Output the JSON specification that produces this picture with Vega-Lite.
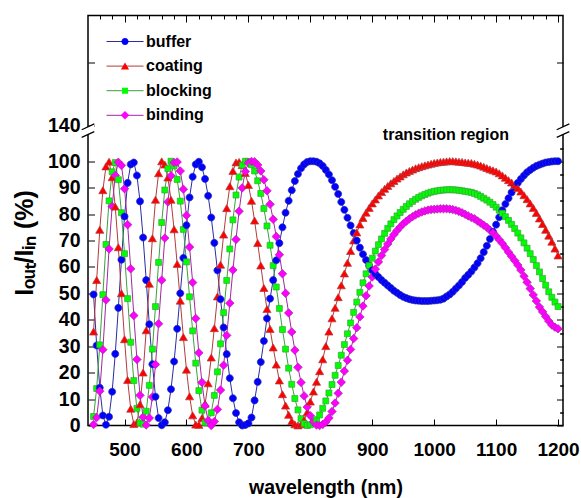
{
  "$schema": "https://vega.github.io/schema/vega-lite/v6.json",
  "autosize": {"type": "none"},
  "padding": {"left": 88, "top": 15.5, "right": 18, "bottom": 72.5},
  "width": 475,
  "height": 410,
  "background": "white",
  "config": {
    "view": {"stroke": "black", "strokeWidth": 1.5},
    "font": "Liberation Sans",
    "axis": {"grid": false, "domain": false, "tickColor": "black", "tickWidth": 1, "labelFont": "Liberation Sans", "labelFontWeight": "bold", "labelColor": "black", "titleFont": "Liberation Sans", "titleFontWeight": "bold", "titleColor": "black", "labelOverlap": false, "labelFlush": false},
    "legend": {"labelFont": "Liberation Sans", "labelColor": "black", "padding": 0}
  },
  "data": {"values": [
    {"wavelength":450,"buffer":49.6,"coating":35.5,"blocking":3.4,"binding":0.4},
    {"wavelength":455,"buffer":30.3,"coating":55,"blocking":14,"binding":3},
    {"wavelength":460,"buffer":14.3,"coating":74,"blocking":30.5,"binding":13},
    {"wavelength":465,"buffer":3.8,"coating":89,"blocking":49.5,"binding":28.7},
    {"wavelength":470,"buffer":0.3,"coating":98,"blocking":68.5,"binding":47.5},
    {"wavelength":475,"buffer":3.3,"coating":99.8,"blocking":85,"binding":66.8},
    {"wavelength":480,"buffer":12.8,"coating":93.9,"blocking":96,"binding":82.9},
    {"wavelength":485,"buffer":27.1,"coating":82.8,"blocking":99.5,"binding":94.6},
    {"wavelength":490,"buffer":44.5,"coating":67.4,"blocking":93,"binding":99.6},
    {"wavelength":495,"buffer":62.7,"coating":50,"blocking":80.5,"binding":98.4},
    {"wavelength":500,"buffer":79.1,"coating":32.6,"blocking":65,"binding":89.6},
    {"wavelength":505,"buffer":91.8,"coating":17.2,"blocking":48,"binding":76},
    {"wavelength":510,"buffer":98.8,"coating":6.3,"blocking":31.5,"binding":59.3},
    {"wavelength":515,"buffer":99.5,"coating":0.5,"blocking":17,"binding":41.6},
    {"wavelength":520,"buffer":94.6,"coating":1.1,"blocking":6.5,"binding":25},
    {"wavelength":525,"buffer":84.8,"coating":8,"blocking":1,"binding":11.4},
    {"wavelength":530,"buffer":71.1,"coating":20,"blocking":0.5,"binding":3.2},
    {"wavelength":535,"buffer":55,"coating":36,"blocking":5.4,"binding":0.2},
    {"wavelength":540,"buffer":38.3,"coating":53.6,"blocking":15.2,"binding":2.8},
    {"wavelength":545,"buffer":23.2,"coating":70.8,"blocking":28.9,"binding":10.8},
    {"wavelength":550,"buffer":10.9,"coating":85.4,"blocking":45,"binding":23.1},
    {"wavelength":555,"buffer":2.8,"coating":95.4,"blocking":61.7,"binding":38.5},
    {"wavelength":560,"buffer":0.1,"coating":99.9,"blocking":76.8,"binding":55},
    {"wavelength":565,"buffer":1.2,"coating":98.7,"blocking":89.1,"binding":70.9},
    {"wavelength":570,"buffer":5.8,"coating":93.8,"blocking":97.2,"binding":84.6},
    {"wavelength":575,"buffer":13.7,"coating":85.4,"blocking":100,"binding":94.5},
    {"wavelength":580,"buffer":24.2,"coating":74.2,"blocking":98.2,"binding":99.5},
    {"wavelength":585,"buffer":36.6,"coating":61.1,"blocking":93.1,"binding":99.7},
    {"wavelength":590,"buffer":50,"coating":47.2,"blocking":84.9,"binding":96.3},
    {"wavelength":595,"buffer":63.4,"coating":33.4,"blocking":74.2,"binding":89.4},
    {"wavelength":600,"buffer":75.8,"coating":21.1,"blocking":61.9,"binding":79.5},
    {"wavelength":605,"buffer":86.3,"coating":11,"blocking":48.7,"binding":67.5},
    {"wavelength":610,"buffer":94.1,"coating":3.8,"blocking":35.8,"binding":54.1},
    {"wavelength":615,"buffer":98.8,"coating":0.3,"blocking":23.6,"binding":40.5},
    {"wavelength":620,"buffer":99.8,"coating":0.2,"blocking":13.2,"binding":27.5},
    {"wavelength":625,"buffer":97.7,"coating":2.8,"blocking":5.8,"binding":16.3},
    {"wavelength":630,"buffer":93.3,"coating":8.2,"blocking":1.1,"binding":7.4},
    {"wavelength":635,"buffer":86.9,"coating":15.9,"blocking":1,"binding":1.9},
    {"wavelength":640,"buffer":78.7,"coating":25.7,"blocking":4.8,"binding":0},
    {"wavelength":645,"buffer":69.1,"coating":36.8,"blocking":11.4,"binding":1.5},
    {"wavelength":650,"buffer":58.7,"coating":48.8,"blocking":20.3,"binding":6.1},
    {"wavelength":655,"buffer":47.8,"coating":60.8,"blocking":30.9,"binding":13.4},
    {"wavelength":660,"buffer":37.1,"coating":72.2,"blocking":42.7,"binding":22.8},
    {"wavelength":665,"buffer":27,"coating":82.2,"blocking":54.9,"binding":34.1},
    {"wavelength":670,"buffer":17.9,"coating":90.5,"blocking":66.8,"binding":46.3},
    {"wavelength":675,"buffer":10.3,"coating":96.3,"blocking":77.8,"binding":58.8},
    {"wavelength":680,"buffer":4.7,"coating":99.5,"blocking":87.2,"binding":70.4},
    {"wavelength":685,"buffer":1.2,"coating":99.7,"blocking":94,"binding":81.1},
    {"wavelength":690,"buffer":0,"coating":98.5,"blocking":98.5,"binding":89.9},
    {"wavelength":695,"buffer":0.2,"coating":95.5,"blocking":100,"binding":96.1},
    {"wavelength":700,"buffer":0.8,"coating":91,"blocking":99.9,"binding":99.4},
    {"wavelength":705,"buffer":3,"coating":85,"blocking":98.7,"binding":99.9},
    {"wavelength":710,"buffer":9.5,"coating":77.5,"blocking":96.3,"binding":99.8},
    {"wavelength":715,"buffer":16.5,"coating":69,"blocking":92.6,"binding":98.6},
    {"wavelength":720,"buffer":24,"coating":60.5,"blocking":87.8,"binding":96.3},
    {"wavelength":725,"buffer":32,"coating":52,"blocking":82.1,"binding":93},
    {"wavelength":730,"buffer":40.5,"coating":44,"blocking":75.5,"binding":88.8},
    {"wavelength":735,"buffer":48,"coating":36.5,"blocking":68.2,"binding":83.7},
    {"wavelength":740,"buffer":55,"coating":29.5,"blocking":60.5,"binding":78},
    {"wavelength":745,"buffer":62.5,"coating":23,"blocking":52.4,"binding":71.5},
    {"wavelength":750,"buffer":69,"coating":17,"blocking":44.3,"binding":64.6},
    {"wavelength":755,"buffer":75,"coating":11.8,"blocking":36.3,"binding":57.4},
    {"wavelength":760,"buffer":80.5,"coating":7.5,"blocking":28.9,"binding":50},
    {"wavelength":765,"buffer":85,"coating":4,"blocking":21.7,"binding":42.6},
    {"wavelength":770,"buffer":89,"coating":1.6,"blocking":15.6,"binding":35.4},
    {"wavelength":775,"buffer":92.5,"coating":0.4,"blocking":10.2,"binding":28.5},
    {"wavelength":780,"buffer":95.2,"coating":0,"blocking":5.9,"binding":22},
    {"wavelength":785,"buffer":97.3,"coating":0.4,"blocking":2.6,"binding":16.3},
    {"wavelength":790,"buffer":98.8,"coating":2,"blocking":0.7,"binding":11.2},
    {"wavelength":795,"buffer":99.7,"coating":5,"blocking":0,"binding":7},
    {"wavelength":800,"buffer":100,"coating":9,"blocking":0.3,"binding":3.7},
    {"wavelength":805,"buffer":100,"coating":12.8,"blocking":1,"binding":1.4},
    {"wavelength":810,"buffer":99.8,"coating":16.5,"blocking":2.2,"binding":0.2},
    {"wavelength":815,"buffer":99.2,"coating":20.5,"blocking":4,"binding":0},
    {"wavelength":820,"buffer":98.2,"coating":25,"blocking":6.5,"binding":0.4},
    {"wavelength":825,"buffer":96.7,"coating":30,"blocking":9.3,"binding":1.3},
    {"wavelength":830,"buffer":95,"coating":35.5,"blocking":12.3,"binding":2.8},
    {"wavelength":835,"buffer":92.8,"coating":40.5,"blocking":15.5,"binding":5.3},
    {"wavelength":840,"buffer":90.3,"coating":44.5,"blocking":19,"binding":8.5},
    {"wavelength":845,"buffer":87.6,"coating":48.5,"blocking":22.7,"binding":12.2},
    {"wavelength":850,"buffer":84.6,"coating":53,"blocking":26.6,"binding":16.4},
    {"wavelength":855,"buffer":81.6,"coating":57.5,"blocking":30.6,"binding":20.6},
    {"wavelength":860,"buffer":78.6,"coating":61.5,"blocking":34.7,"binding":24.7},
    {"wavelength":865,"buffer":75.7,"coating":66,"blocking":38.8,"binding":28.8},
    {"wavelength":870,"buffer":72.8,"coating":70,"blocking":42.8,"binding":32.9},
    {"wavelength":875,"buffer":70,"coating":73,"blocking":46.7,"binding":37},
    {"wavelength":880,"buffer":67.3,"coating":76,"blocking":50.4,"binding":41.1},
    {"wavelength":885,"buffer":64.8,"coating":78.5,"blocking":54,"binding":45.2},
    {"wavelength":890,"buffer":62.6,"coating":80.5,"blocking":57.4,"binding":49.1},
    {"wavelength":895,"buffer":60.5,"coating":82.3,"blocking":60.5,"binding":52.8},
    {"wavelength":900,"buffer":58.7,"coating":84,"blocking":63.3,"binding":56.2},
    {"wavelength":905,"buffer":57.4,"coating":85.5,"blocking":66,"binding":59.2},
    {"wavelength":910,"buffer":56.2,"coating":87,"blocking":68.4,"binding":61.9},
    {"wavelength":915,"buffer":55,"coating":88.3,"blocking":70.6,"binding":64.3},
    {"wavelength":920,"buffer":54,"coating":89.5,"blocking":72.7,"binding":66.6},
    {"wavelength":925,"buffer":53,"coating":90.6,"blocking":74.6,"binding":68.7},
    {"wavelength":930,"buffer":52,"coating":91.6,"blocking":76.3,"binding":70.6},
    {"wavelength":935,"buffer":51,"coating":92.5,"blocking":77.9,"binding":72.3},
    {"wavelength":940,"buffer":50.2,"coating":93.4,"blocking":79.3,"binding":73.8},
    {"wavelength":945,"buffer":49.4,"coating":94.2,"blocking":80.6,"binding":75.1},
    {"wavelength":950,"buffer":48.7,"coating":95,"blocking":81.8,"binding":76.3},
    {"wavelength":955,"buffer":48.2,"coating":95.7,"blocking":82.9,"binding":77.3},
    {"wavelength":960,"buffer":47.8,"coating":96.3,"blocking":83.9,"binding":78.2},
    {"wavelength":965,"buffer":47.5,"coating":96.8,"blocking":84.8,"binding":79},
    {"wavelength":970,"buffer":47.3,"coating":97.3,"blocking":85.6,"binding":79.7},
    {"wavelength":975,"buffer":47.2,"coating":97.7,"blocking":86.3,"binding":80.3},
    {"wavelength":980,"buffer":47.1,"coating":98.1,"blocking":86.9,"binding":80.8},
    {"wavelength":985,"buffer":47.1,"coating":98.4,"blocking":87.4,"binding":81.2},
    {"wavelength":990,"buffer":47.1,"coating":98.7,"blocking":87.9,"binding":81.5},
    {"wavelength":995,"buffer":47.2,"coating":99,"blocking":88.3,"binding":81.7},
    {"wavelength":1000,"buffer":47.3,"coating":99.3,"blocking":88.6,"binding":81.8},
    {"wavelength":1005,"buffer":47.4,"coating":99.5,"blocking":88.8,"binding":81.9},
    {"wavelength":1010,"buffer":47.6,"coating":99.7,"blocking":89,"binding":82},
    {"wavelength":1015,"buffer":48,"coating":99.8,"blocking":89.1,"binding":82},
    {"wavelength":1020,"buffer":48.8,"coating":99.9,"blocking":89.2,"binding":82},
    {"wavelength":1025,"buffer":49.6,"coating":100,"blocking":89.2,"binding":81.9},
    {"wavelength":1030,"buffer":50.6,"coating":100,"blocking":89.2,"binding":81.7},
    {"wavelength":1035,"buffer":51.8,"coating":99.9,"blocking":89.1,"binding":81.4},
    {"wavelength":1040,"buffer":53,"coating":99.8,"blocking":89,"binding":81},
    {"wavelength":1045,"buffer":54.3,"coating":99.7,"blocking":88.8,"binding":80.5},
    {"wavelength":1050,"buffer":55.8,"coating":99.5,"blocking":88.6,"binding":79.9},
    {"wavelength":1055,"buffer":57,"coating":99.4,"blocking":88.4,"binding":79.3},
    {"wavelength":1060,"buffer":58.3,"coating":99.3,"blocking":88.2,"binding":78.7},
    {"wavelength":1065,"buffer":59.8,"coating":99,"blocking":87.8,"binding":78.2},
    {"wavelength":1070,"buffer":61.4,"coating":98.7,"blocking":87.3,"binding":77.4},
    {"wavelength":1075,"buffer":63.3,"coating":98.3,"blocking":86.7,"binding":76.6},
    {"wavelength":1080,"buffer":65.6,"coating":97.9,"blocking":86,"binding":75.8},
    {"wavelength":1085,"buffer":68,"coating":97.4,"blocking":85.3,"binding":75},
    {"wavelength":1090,"buffer":70.6,"coating":96.9,"blocking":84.5,"binding":73.9},
    {"wavelength":1095,"buffer":73.3,"coating":96.5,"blocking":83.6,"binding":72.9},
    {"wavelength":1100,"buffer":76,"coating":96.1,"blocking":82.6,"binding":71.7},
    {"wavelength":1105,"buffer":78.8,"coating":95.4,"blocking":81.5,"binding":70.3},
    {"wavelength":1110,"buffer":81.4,"coating":94.6,"blocking":80.3,"binding":68.9},
    {"wavelength":1115,"buffer":83.8,"coating":93.7,"blocking":79,"binding":67.3},
    {"wavelength":1120,"buffer":86,"coating":92.8,"blocking":77.6,"binding":65.6},
    {"wavelength":1125,"buffer":88.2,"coating":91.9,"blocking":76.1,"binding":64},
    {"wavelength":1130,"buffer":90.1,"coating":90.9,"blocking":74.5,"binding":62.4},
    {"wavelength":1135,"buffer":91.8,"coating":89.8,"blocking":72.8,"binding":60.7},
    {"wavelength":1140,"buffer":93.3,"coating":88.5,"blocking":71,"binding":58.8},
    {"wavelength":1145,"buffer":94.6,"coating":87.1,"blocking":69.1,"binding":56.5},
    {"wavelength":1150,"buffer":95.8,"coating":85.6,"blocking":67.1,"binding":54.2},
    {"wavelength":1155,"buffer":96.7,"coating":84,"blocking":65,"binding":51.8},
    {"wavelength":1160,"buffer":97.5,"coating":82.3,"blocking":62.8,"binding":49.4},
    {"wavelength":1165,"buffer":98.2,"coating":80.4,"blocking":60.5,"binding":47.1},
    {"wavelength":1170,"buffer":98.7,"coating":78.3,"blocking":58.1,"binding":44.8},
    {"wavelength":1175,"buffer":99.1,"coating":76.2,"blocking":55.6,"binding":43},
    {"wavelength":1180,"buffer":99.5,"coating":74,"blocking":53.1,"binding":41.2},
    {"wavelength":1185,"buffer":99.7,"coating":71.8,"blocking":50.6,"binding":39.5},
    {"wavelength":1190,"buffer":99.9,"coating":69.5,"blocking":48.5,"binding":38},
    {"wavelength":1195,"buffer":100,"coating":66.9,"blocking":46.7,"binding":37.2},
    {"wavelength":1200,"buffer":100,"coating":64.3,"blocking":45,"binding":36.6}
  ]},
  "layer": [
    {
      "transform": [{"fold": ["buffer", "coating", "blocking", "binding"], "as": ["series", "I"]}],
      "mark": {"type": "line", "strokeWidth": 1},
      "encoding": {
        "x": {"field": "wavelength", "type": "quantitative",
          "scale": {"domain": [441, 1208], "nice": false, "zero": false},
          "axis": {"values": [500, 600, 700, 800, 900, 1000, 1100, 1200], "format": "d", "tickSize": -6.5, "labelFontSize": 19, "labelPadding": 36, "labelBaseline": "alphabetic", "title": "wavelength (nm)", "titleFontSize": 19.5, "titleY": 67.5, "titleBaseline": "alphabetic"}},
        "y": {"field": "I", "type": "quantitative",
          "scale": {"domain": [0, 112, 140, 175], "range": [410, 114, 110, 0], "nice": false, "zero": false},
          "axis": {"values": [0, 10, 20, 30, 40, 50, 60, 70, 80, 90, 100, 140, 160], "format": "d", "tickSize": -6.5, "labelFontSize": 19.5, "labelPadding": 14.5, "labelExpr": "datum.value == 160 ? '' : datum.label", "title": "Iₒᵤₜ/Iᵢₙ (%)", "titleFontSize": 25, "titleAngle": 270, "titleX": -56, "titleY": 227, "titleAlign": "center", "titleBaseline": "alphabetic"}},
        "stroke": {"field": "series", "type": "nominal",
          "scale": {"domain": ["buffer", "coating", "blocking", "binding"], "range": ["#2b2ba6", "#b23c3c", "#3ca03c", "#a326a3"]},
          "legend": {"orient": "top-left", "offset": 18, "title": null, "symbolType": "stroke", "symbolSize": 1369, "symbolStrokeWidth": 1, "clipHeight": 16, "rowPadding": 8.6, "labelFontSize": 16, "labelFontWeight": "bold", "labelOffset": 2}}
      }
    },
    {
      "transform": [{"fold": ["buffer", "coating", "blocking", "binding"], "as": ["series", "I"]}],
      "mark": {"type": "point", "filled": true, "opacity": 1, "strokeWidth": 0.7, "size": 72},
      "encoding": {
        "x": {"field": "wavelength", "type": "quantitative",
          "axis": {"values": [460, 480, 520, 540, 560, 580, 620, 640, 660, 680, 720, 740, 760, 780, 820, 840, 860, 880, 920, 940, 960, 980, 1020, 1040, 1060, 1080, 1120, 1140, 1160, 1180], "tickSize": -3.3, "labels": false, "title": null}},
        "y": {"field": "I", "type": "quantitative",
          "axis": {"values": [5, 15, 25, 35, 45, 55, 65, 75, 85, 95, 105], "tickSize": -3.3, "labels": false, "title": null}},
        "stroke": {"field": "series", "type": "nominal", "legend": null},
        "fill": {"field": "series", "type": "nominal", "sort": null,
          "scale": {"range": ["#0000ff", "#ff0000", "#00ff00", "#ff00ff"]},
          "legend": {"orient": "none", "legendX": 32, "legendY": 18, "title": null, "symbolSize": 72, "symbolStrokeWidth": 0.6, "symbolStrokeColor": "#333333", "clipHeight": 16, "rowPadding": 8.6, "labelExpr": "''",
            "encode": {"symbols": {"stroke": {"scale": "stroke", "field": "value"}}}}},
        "shape": {"field": "series", "type": "nominal", "sort": null,
          "scale": {"range": [
            "M0.83,0 A0.83,0.83 0 1,1 -0.83,0 A0.83,0.83 0 1,1 0.83,0 Z",
            "M0,-0.85 L0.96,0.8 L-0.96,0.8 Z",
            "M-0.7,-0.7 L0.7,-0.7 L0.7,0.7 L-0.7,0.7 Z",
            "M0,-1 L1,0 L0,1 L-1,0 Z"]}}
      }
    },
    {
      "data": {"values": [{}]},
      "mark": {"type": "text", "text": "transition region", "font": "Liberation Sans", "fontSize": 16, "fontWeight": "bold", "align": "center", "baseline": "middle", "fill": "black"},
      "encoding": {
        "x": {"datum": 1019, "type": "quantitative",
          "axis": {"orient": "top", "values": [500, 600, 700, 800, 900, 1000, 1100, 1200], "tickSize": -6.5, "labels": false, "title": null}},
        "y": {"datum": 110, "type": "quantitative",
          "axis": {"orient": "right", "values": [0, 10, 20, 30, 40, 50, 60, 70, 80, 90, 100, 160], "tickSize": -6.5, "labels": false, "title": null}}
      }
    },
    {
      "data": {"values": [{}]},
      "mark": {"type": "point", "shape": "M-0.9,-0.12 L0.9,-0.95 L0.9,0.15 L-0.9,0.98 Z", "size": 196, "filled": true, "fill": "white", "strokeWidth": 0, "opacity": 1},
      "encoding": {
        "x": {"datum": 441, "type": "quantitative",
          "axis": {"orient": "top", "values": [460, 480, 520, 540, 560, 580, 620, 640, 660, 680, 720, 740, 760, 780, 820, 840, 860, 880, 920, 940, 960, 980, 1020, 1040, 1060, 1080, 1120, 1140, 1160, 1180], "tickSize": -3.3, "labels": false, "title": null}},
        "y": {"datum": 111.6, "type": "quantitative",
          "axis": {"orient": "right", "values": [5, 15, 25, 35, 45, 55, 65, 75, 85, 95, 105], "tickSize": -3.3, "labels": false, "title": null}}
      }
    },
    {
      "data": {"values": [{}]},
      "mark": {"type": "point", "shape": "M-0.9,-0.12 L0.9,-0.95 L0.9,0.15 L-0.9,0.98 Z", "size": 196, "filled": true, "fill": "white", "strokeWidth": 0, "opacity": 1},
      "encoding": {
        "x": {"datum": 1208, "type": "quantitative", "axis": null},
        "y": {"datum": 111.6, "type": "quantitative", "axis": null}
      }
    },
    {
      "data": {"values": [{}]},
      "mark": {"type": "point", "shape": "M-0.9,-0.12 L0.9,-0.95 M-0.9,0.98 L0.9,0.15", "size": 196, "filled": false, "stroke": "black", "strokeWidth": 1.2, "opacity": 1},
      "encoding": {
        "x": {"datum": 441, "type": "quantitative", "axis": null},
        "y": {"datum": 111.6, "type": "quantitative", "axis": null}
      }
    },
    {
      "data": {"values": [{}]},
      "mark": {"type": "point", "shape": "M-0.9,-0.12 L0.9,-0.95 M-0.9,0.98 L0.9,0.15", "size": 196, "filled": false, "stroke": "black", "strokeWidth": 1.2, "opacity": 1},
      "encoding": {
        "x": {"datum": 1208, "type": "quantitative", "axis": null},
        "y": {"datum": 111.6, "type": "quantitative", "axis": null}
      }
    }
  ],
  "resolve": {"axis": {"x": "independent", "y": "independent"}}
}
